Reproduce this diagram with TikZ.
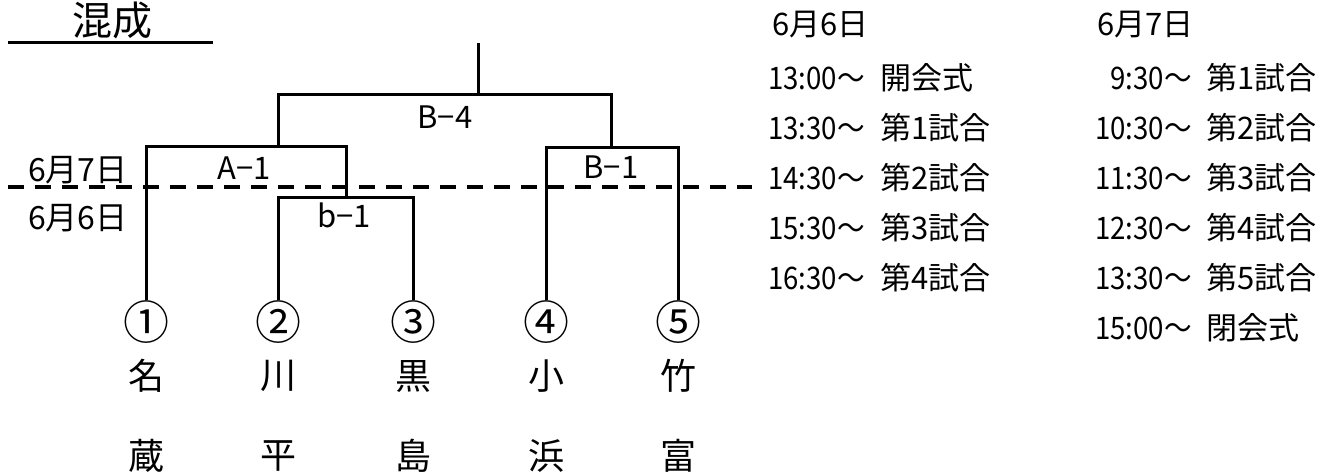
\documentclass[tikz,border=0pt]{standalone}
\usepackage{fontspec}
\setmainfont{Noto Sans CJK JP}
\newfontfamily\narrowjp{Noto Sans CJK JP}[FakeStretch=0.89]
\begin{document}
\begin{tikzpicture}[x=1pt,y=-1pt]
\tikzset{
  brk/.style={line width=3pt},
  daysep/.style={line width=3.5pt, dash pattern=on 16pt off 11pt},
  lbl/.style={inner sep=0pt, font=\fontsize{31}{36}\selectfont},
  seed/.style={inner sep=0pt, font=\fontsize{46}{52}\selectfont},
  team/.style={inner sep=0pt, font=\fontsize{36}{42}\selectfont},
  tm/.style={inner sep=0pt, anchor=base east, font=\narrowjp\fontsize{31}{36}\selectfont},
  ev/.style={inner sep=0pt, anchor=base west, font=\fontsize{31}{36}\selectfont},
  hd/.style={inner sep=0pt, anchor=base west, font=\fontsize{31}{36}\selectfont},
  dayl/.style={inner sep=0pt, anchor=base west, font=\fontsize{32}{36}\selectfont},
}
\useasboundingbox (0,0) rectangle (1333,475);

% title
\node[inner sep=0pt, font=\fontsize{40}{48}\selectfont] (title) at (112,20) {混成};
\coordinate (ulL) at (8,42);
\coordinate (ulR) at (213,42);
\draw[brk] (ulL) -- (ulR);

% seeds
\node[seed] (s1) at (146,322) {①};
\node[seed] (s2) at (278,322) {②};
\node[seed] (s3) at (413,322) {③};
\node[seed] (s4) at (546,322) {④};
\node[seed] (s5) at (678,322) {⑤};

% team names
\node[team] (t1a) at (146,376) {名};
\node[team] (t2a) at (278,376) {川};
\node[team] (t3a) at (413,376) {黒};
\node[team] (t4a) at (546,376) {小};
\node[team] (t5a) at (678,376) {竹};
\node[team] (t1b) at (146,456) {蔵};
\node[team] (t2b) at (278,456) {平};
\node[team] (t3b) at (413,456) {島};
\node[team] (t4b) at (546,456) {浜};
\node[team] (t5b) at (678,456) {富};

% bracket junctions
\coordinate (bR) at (413,197);
\coordinate (bM) at (346,197);
\coordinate (aR) at (346,146);
\coordinate (aM) at (278,146);
\coordinate (B1R) at (678,147);
\coordinate (B1M) at (611,147);
\coordinate (B4R) at (611,94);
\coordinate (fin) at (478,94);
\coordinate (top) at (478,43);

\draw[brk] (s2.north) |- (bR) -- (s3.north);
\draw[brk] (s1.north) |- (aR) -- (bM);
\draw[brk] (s4.north) |- (B1R) -- (s5.north);
\draw[brk] (aM) |- (B4R) -- (B1M);
\draw[brk] (fin) -- (top);

% match labels
\node[lbl] (A1) at (244,168) {A−1};
\node[lbl] (b1) at (344,215) {b−1};
\node[lbl] (B4) at (445,117) {B−4};
\node[lbl] (B1) at (611,167) {B−1};

% day separator
\coordinate (dL) at (8,187);
\coordinate (dR) at (752,187);
\draw[daysep] (dL) -- (dR);
\node[dayl] (d7) at (28,181) {6月7日};
\node[dayl] (d6) at (28,229) {6月6日};

% schedule day 1
\node[hd] (h1) at (772,35) {6月6日};
\node[tm] (a1t) at (865,89) {13:00〜};   \node[ev] (a1e) at (880,89) {開会式};
\node[tm] (a2t) at (865,139) {13:30〜};  \node[ev] (a2e) at (880,139) {第1試合};
\node[tm] (a3t) at (865,189) {14:30〜};  \node[ev] (a3e) at (880,189) {第2試合};
\node[tm] (a4t) at (865,239) {15:30〜};  \node[ev] (a4e) at (880,239) {第3試合};
\node[tm] (a5t) at (865,289) {16:30〜};  \node[ev] (a5e) at (880,289) {第4試合};

% schedule day 2
\node[hd] (h2) at (1097,35) {6月7日};
\node[tm] (c1t) at (1192,89) {9:30〜};   \node[ev] (c1e) at (1206,89) {第1試合};
\node[tm] (c2t) at (1192,139) {10:30〜}; \node[ev] (c2e) at (1206,139) {第2試合};
\node[tm] (c3t) at (1192,189) {11:30〜}; \node[ev] (c3e) at (1206,189) {第3試合};
\node[tm] (c4t) at (1192,239) {12:30〜}; \node[ev] (c4e) at (1206,239) {第4試合};
\node[tm] (c5t) at (1192,289) {13:30〜}; \node[ev] (c5e) at (1206,289) {第5試合};
\node[tm] (c6t) at (1192,339) {15:00〜}; \node[ev] (c6e) at (1206,339) {閉会式};
\end{tikzpicture}
\end{document}
